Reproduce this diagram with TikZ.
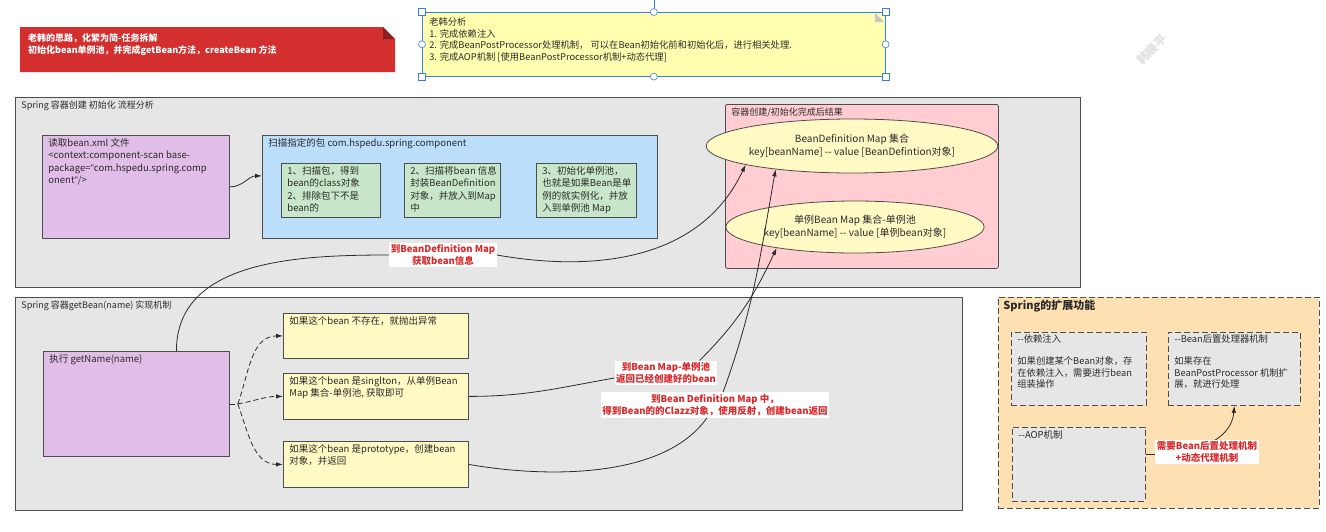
\documentclass[tikz,border=0pt]{standalone}
\usepackage{fontspec}
\setmainfont{Noto Sans CJK SC}
\newfontfamily\qfont{Liberation Sans}
\usetikzlibrary{positioning,arrows.meta,shapes.geometric}

\definecolor{edge}{HTML}{4D4D4D}
\definecolor{ink}{HTML}{2B2B2B}
\definecolor{panel}{HTML}{E6E6E6}
\definecolor{lilac}{HTML}{E1BEE7}
\definecolor{skyblue}{HTML}{BBDEFB}
\definecolor{mint}{HTML}{C8E6C9}
\definecolor{rose}{HTML}{FFCDD2}
\definecolor{cream}{HTML}{FFF9C4}
\definecolor{peach}{HTML}{FFE0B2}
\definecolor{banner}{HTML}{D32F2F}
\definecolor{redtxt}{HTML}{D8292B}
\definecolor{notefill}{HTML}{FFFFB0}
\definecolor{handle}{HTML}{3C7FD6}

\newcommand{\fs}{\fontsize{9.5}{12.5}\selectfont}
\newcommand{\ft}{\fontsize{9}{11}\selectfont}
% box content: optional top gap, width, height, lines
\newcommand{\boxtext}[4][2pt]{\parbox[c][#3][t]{#2}{\vspace*{#1}\begin{tabular}[t]{@{}l@{}}#4\end{tabular}}}

\begin{document}
\begin{tikzpicture}[x=1pt, y=1pt,
  box/.style={draw=edge, line width=0.8pt, anchor=north west, inner xsep=6pt,
              inner ysep=0pt, font=\fs, text=ink},
  dashbox/.style={box, dash pattern=on 6pt off 3pt},
  oval/.style={ellipse, draw=edge, line width=0.8pt, fill=cream, inner sep=0pt,
               font=\fontsize{10}{13}\selectfont, text=ink, align=center},
  line/.style={draw=ink, line width=0.8pt},
  arr/.style={line, -{Latex[length=7pt,width=4.5pt]}},
  dasharr/.style={arr, dash pattern=on 5pt off 3pt},
  hint/.style={fill=white, text=redtxt, font=\fs\bfseries, align=center, inner sep=1.5pt}
]
  \useasboundingbox (0,0) rectangle (1326,-531);

  % header banner and review note
  \fill[banner] (20,-27) -- (383,-27) -- (395,-39) -- (395,-72) -- (20,-72) -- cycle;
  \fill[banner!65!black] (383,-27) -- (395,-39) -- (383,-39) -- cycle;
  \node[anchor=north west, text=white, font=\fontsize{9}{11.5}\selectfont\bfseries,
        align=left, inner sep=0pt] (plan) at (28,-34)
    {老韩的思路，化繁为简-任务拆解\\初始化bean单例池，并完成getBean方法，createBean 方法};

  \node[box, draw=handle, line width=0.6pt, fill=notefill, inner xsep=7pt,
        font=\fontsize{9.3}{11.7}\selectfont] (review) at (422,-12)
    {\boxtext[5pt]{449pt}{64pt}{老韩分析\\1. 完成依赖注入\\2. 完成BeanPostProcessor处理机制， 可以在Bean初始化前和初始化后，进行相关处理.\\3. 完成AOP机制 [使用BeanPostProcessor机制+动态代理]}};
  \fill[gray!45] (875,-13) -- (884,-22) -- (875,-22) -- cycle;
  \draw[handle, line width=0.6pt] (review.north) -- ++(0,12);
  \foreach \a in {north west,north east,south west,south east}
    \draw[handle, fill=white, line width=0.6pt] ([shift={(-3.5,-3.5)}]review.\a) rectangle ++(7,7);
  \foreach \a in {north,south,east,west}
    \draw[handle, fill=white, line width=0.6pt] (review.\a) circle[radius=3.5];

  \node[rotate=45, text=black!12, font=\fontsize{12}{12}\selectfont\bfseries] (stamp) at (1152,-50) {韩顺平};

  % container creation
  \node[box, fill=panel] (create) at (15,-97) {\boxtext[2pt]{1053pt}{190pt}{\ft Spring 容器创建 初始化 流程分析}};
  \node[box, fill=lilac] (readxml) at (42,-135)
    {\boxtext{175pt}{103pt}{读取bean.xml 文件\\<context:component-scan base-\\package={\qfont"}com.hspedu.spring.comp\\onent{\qfont"}/>}};
  \node[box, fill=skyblue] (scan) at (262,-135)
    {\boxtext{383pt}{103pt}{扫描指定的包 com.hspedu.spring.component}};
  \node[box, fill=mint] (find) at (281,-163)
    {\boxtext{87pt}{54pt}{1、扫描包，得到\\bean的class对象\\2、排除包下不是\\bean的}};
  \node[box, fill=mint] (wrap) at (404,-163)
    {\boxtext{84pt}{54pt}{2、扫描将bean 信息\\封装BeanDefinition\\对象，并放入到Map\\中}};
  \node[box, fill=mint] (single) at (536,-163)
    {\boxtext{88pt}{54pt}{3、初始化单例池，\\也就是如果Bean是单\\例的就实例化，并放\\入到单例池 Map}};

  \node[box, fill=rose, rounded corners=2pt] (result) at (725,-104)
    {\boxtext[2pt]{261pt}{164pt}{\ft 容器创建/初始化完成后结果}};
  \node[oval, minimum width=228pt, minimum height=54pt] (defmap) at (852,-146)
    {BeanDefinition Map 集合\\key[beanName] {-}{-} value [BeanDefintion对象]};
  \node[oval, minimum width=226pt, minimum height=52pt] (pool) at (855,-227)
    {单例Bean Map 集合-单例池\\key[beanName] {-}{-} value [单例bean对象]};

  % getBean
  \node[box, fill=panel] (getbean) at (15,-297) {\boxtext[2pt]{935pt}{213pt}{\ft Spring 容器getBean(name) 实现机制}};
  \node[box, fill=lilac] (call) at (43,-351) {\boxtext{174pt}{105pt}{执行 getName(name)}};
  \node[box, fill=cream] (absent) at (283,-313)
    {\boxtext{173pt}{45pt}{如果这个bean 不存在，就抛出异常}};
  \node[box, fill=cream] (singleton) at (283,-373)
    {\boxtext{173pt}{46pt}{如果这个bean 是singlton，从单例Bean\\Map 集合-单例池, 获取即可}};
  \node[box, fill=cream] (prototype) at (283,-441)
    {\boxtext{173pt}{46pt}{如果这个bean 是prototype，创建bean\\对象，并返回}};

  % extension features
  \node[dashbox, fill=peach, inner xsep=5pt] (ext) at (998,-297)
    {\boxtext[3pt]{311pt}{211pt}{\fontsize{11}{13}\selectfont\bfseries Spring的扩展功能}};
  \node[dashbox, fill=panel, font=\fontsize{9.3}{11.5}\selectfont] (inject) at (1011,-332)
    {\boxtext{123pt}{73pt}{{-}{-}依赖注入\\[11pt]如果创建某个Bean对象，存\\在依赖注入，需要进行bean\\组装操作}};
  \node[dashbox, fill=panel, font=\fontsize{9.3}{11.5}\selectfont] (postproc) at (1168,-332)
    {\boxtext{120pt}{73pt}{{-}{-}Bean后置处理器机制\\[11pt]如果存在\\BeanPostProcessor 机制扩\\展，就进行处理}};
  \node[dashbox, fill=panel] (aop) at (1012,-427) {\boxtext{121pt}{74pt}{{-}{-}AOP机制}};

  % labels on the lookups
  \node[hint] (fetchdef) at (443,-255) {到BeanDefinition Map\\获取bean信息};
  \node[hint] (fetchpool) at (666,-373) {到Bean Map-单例池\\返回已经创建好的bean};
  \node[hint] (makebean) at (715,-405) {到Bean Definition Map 中，\\得到Bean的的Clazz对象，使用反射，创建bean返回};

  \draw[arr] (readxml.east) to[out=0,in=180] ([yshift=11pt]scan.west);

  \coordinate (fork) at ([xshift=8pt]call.east);
  \draw[line, dash pattern=on 5pt off 3pt] (call.east) -- (fork);
  \draw[dasharr] (fork) to[out=70,in=180] (absent.west);
  \draw[dasharr] (fork) to[out=10,in=180] (singleton.west);
  \draw[dasharr] (fork) to[out=-70,in=180] (prototype.west);

  \draw[line] ([xshift=40pt]call.north) to[out=90,in=180] (fetchdef.west);
  \draw[arr] (fetchdef.east) to[out=-10,in=-115] (defmap.-170);
  \draw[line] (singleton.east) to[out=0,in=190] ([yshift=-5pt]fetchpool.west);
  \draw[arr] ([xshift=-18pt]fetchpool.north east) to[out=45,in=-115] (pool.-165);
  \draw[line] (prototype.east) to[out=-10,in=-125,looseness=0.8] ([xshift=-8pt]makebean.south);
  \draw[arr] ([xshift=8pt]makebean.north) to[out=70,in=-100] (defmap.-163);

  \draw[arr] ([yshift=10pt]aop.east) -- ++(8,0) to[out=0,in=-95] (postproc.south);
  \node[hint] (needbpp) at (1207,-452) {需要Bean后置处理机制\\+动态代理机制};
\end{tikzpicture}
\end{document}
